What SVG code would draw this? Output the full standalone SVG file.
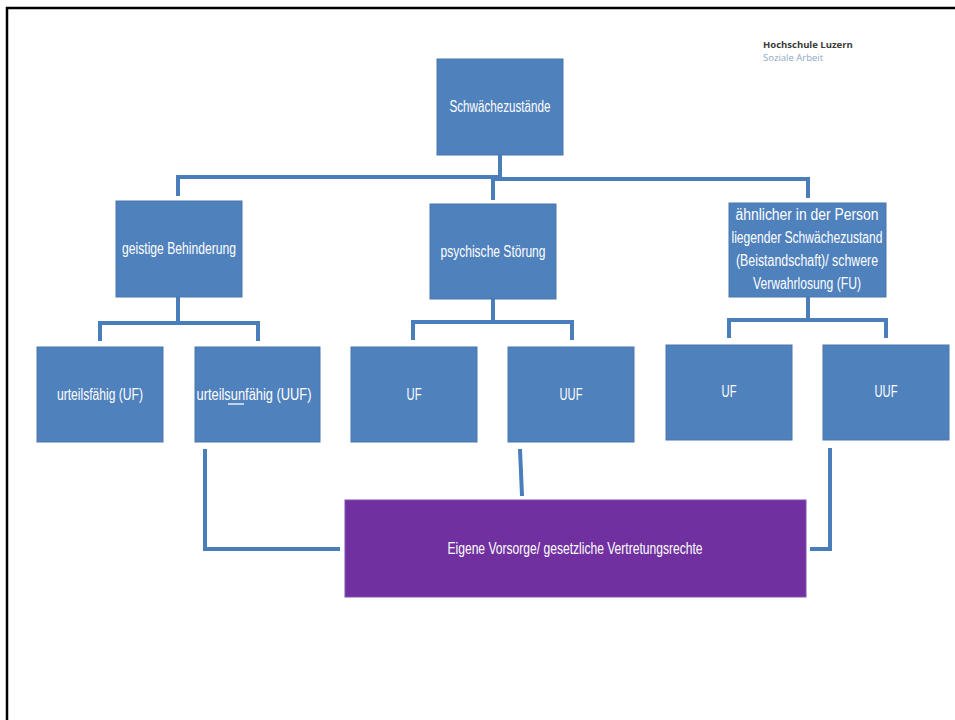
<svg xmlns="http://www.w3.org/2000/svg" width="955" height="720" viewBox="0 0 955 720">
<style>
.box{fill:#4F81BD;stroke:#4A76AD;stroke-width:1}
.purple{fill:#7030A0;stroke:#8050B0;stroke-width:1}
.t{font-family:"Liberation Sans",Arial,sans-serif;font-size:16px;fill:#FFFFFF;text-anchor:middle}
.c{fill:none;stroke:#4A7EBB;stroke-width:4;stroke-linejoin:miter;stroke-linecap:butt}
</style>
<rect x="0" y="0" width="955" height="720" fill="#FFFFFF"/>
<g id="frame">
<line x1="6" y1="8" x2="955" y2="8" stroke="#000" stroke-width="2.5"/>
<line x1="7" y1="7" x2="7" y2="720" stroke="#000" stroke-width="2.5"/>
</g>
<g id="logo" font-family="'Open Sans','Liberation Sans',sans-serif" font-size="9.5px">
<text x="763" y="48" fill="#3A3A3A" font-weight="bold">Hochschule Luzern</text>
<text x="763" y="61" fill="#8DA8C3">Soziale Arbeit</text>
</g>
<g id="connectors">
<path class="c" d="M500 155 V176"/>
<path class="c" d="M178 196 V177 H502"/>
<path class="c" d="M493 200 V179 H808 V198"/>
<path class="c" d="M178 297 V323"/>
<path class="c" d="M100 341 V323 H258 V341"/>
<path class="c" d="M493 299 V322"/>
<path class="c" d="M413 340 V322 H572 V340"/>
<path class="c" d="M808 297 V320"/>
<path class="c" d="M729 338 V320 H886 V338"/>
<path class="c" d="M205 449 V549 H340"/>
<path class="c" d="M520 449 L522 496"/>
<path class="c" d="M830 448 V549 H810"/>
</g>
<g id="n-root">
<rect class="box" x="437" y="59" width="126" height="96"/>
<text class="t" x="500" y="112" textLength="101" lengthAdjust="spacingAndGlyphs">Schwächezustände</text>
</g>
<g id="n-geistig">
<rect class="box" x="116" y="201" width="126" height="96"/>
<text class="t" x="179" y="254" textLength="114" lengthAdjust="spacingAndGlyphs">geistige Behinderung</text>
</g>
<g id="n-psychisch">
<rect class="box" x="430" y="204" width="126" height="95"/>
<text class="t" x="493" y="257" textLength="105" lengthAdjust="spacingAndGlyphs">psychische Störung</text>
</g>
<g id="n-aehnlich">
<rect class="box" x="729" y="203" width="157" height="94"/>
<text class="t" x="807" y="220" textLength="143" lengthAdjust="spacingAndGlyphs">ähnlicher in der Person</text>
<text class="t" x="807" y="243" textLength="151" lengthAdjust="spacingAndGlyphs">liegender Schwächezustand</text>
<text class="t" x="807" y="266" textLength="142" lengthAdjust="spacingAndGlyphs">(Beistandschaft)/ schwere</text>
<text class="t" x="807" y="289" textLength="108" lengthAdjust="spacingAndGlyphs">Verwahrlosung (FU)</text>
</g>
<g id="n-uf1">
<rect class="box" x="37" y="347" width="126" height="95"/>
<text class="t" x="100" y="400" textLength="86" lengthAdjust="spacingAndGlyphs">urteilsfähig (UF)</text>
</g>
<g id="n-uuf1">
<rect class="box" x="195" y="347" width="125" height="95"/>
<text class="t" x="254" y="400" textLength="115" lengthAdjust="spacingAndGlyphs">urteilsunfähig (UUF)</text>
<line x1="228" y1="404" x2="244" y2="404" stroke="#FFFFFF" stroke-width="1.3"/>
</g>
<g id="n-uf2">
<rect class="box" x="351" y="347" width="126" height="95"/>
<text class="t" x="414" y="400" textLength="15" lengthAdjust="spacingAndGlyphs">UF</text>
</g>
<g id="n-uuf2">
<rect class="box" x="508" y="347" width="126" height="95"/>
<text class="t" x="571" y="400" textLength="23" lengthAdjust="spacingAndGlyphs">UUF</text>
</g>
<g id="n-uf3">
<rect class="box" x="666" y="345" width="126" height="95"/>
<text class="t" x="729" y="397" textLength="15" lengthAdjust="spacingAndGlyphs">UF</text>
</g>
<g id="n-uuf3">
<rect class="box" x="823" y="345" width="126" height="95"/>
<text class="t" x="886" y="397" textLength="23" lengthAdjust="spacingAndGlyphs">UUF</text>
</g>
<g id="n-vorsorge">
<rect class="purple" x="345" y="500" width="461" height="97"/>
<text class="t" x="575" y="554" textLength="255" lengthAdjust="spacingAndGlyphs">Eigene Vorsorge/ gesetzliche Vertretungsrechte</text>
</g>
</svg>
